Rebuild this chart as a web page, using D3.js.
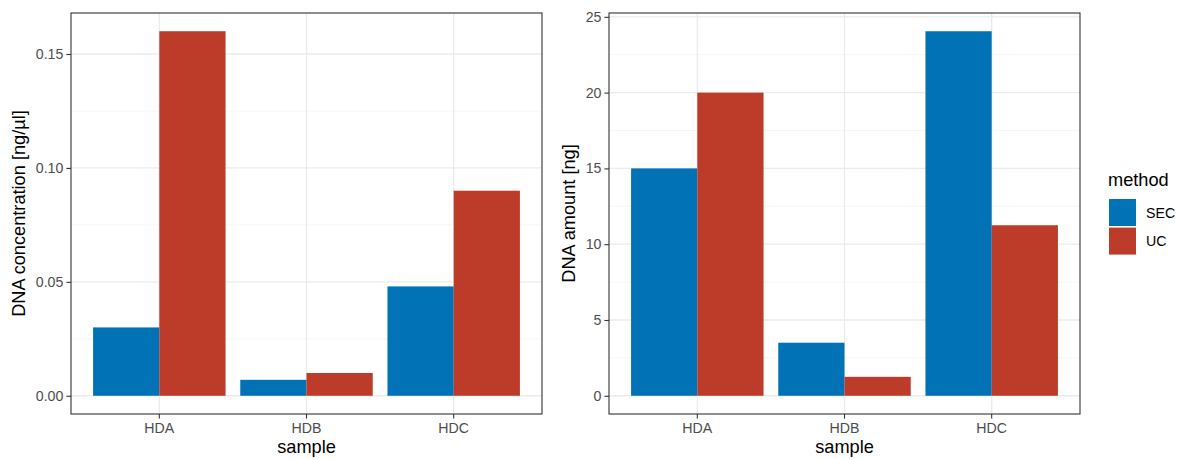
<!DOCTYPE html>
<html lang="en">
<head>
<meta charset="UTF-8">
<title>DNA by sample and method</title>
<style>
  body { margin: 0; background: #fff; }
  svg { font-family: "Liberation Sans", Arial, sans-serif; }
  .tick text { fill: #4d4d4d; font-size: 14.2px; font-family: "Liberation Sans", Arial, sans-serif; }
  .tick line { stroke: #333; stroke-width: 1.1; }
  .axis path { display: none; }
  .title { font-size: 18.2px; fill: #000; }
</style>
</head>
<body>
<script src="https://d3js.org/d3.v7.min.js"></script>
<script>
const samples = ["HDA", "HDB", "HDC"];
const methods = ["SEC", "UC"];
// values per sample, order follows methods
const concentration = [[0.03, 0.16], [0.007, 0.01], [0.048, 0.09]];
const amount = [[15, 20], [3.5, 1.25], [24.05, 11.25]];
const concTicks = [0, 0.05, 0.10, 0.15];
const concMinor = [0.025, 0.075, 0.125];
const amountTicks = [0, 5, 10, 15, 20, 25];
const amountMinor = [2.5, 7.5, 12.5, 17.5, 22.5];

const colors = { SEC: "#0072B5", UC: "#BC3C29" };
const width = 1180, height = 459;

const svg = d3.select("body").append("svg")
  .attr("width", width).attr("height", height);

function panel(opts) {
  const { left, right, top, bottom, values, ticks, minor, fmt, ylab, labX } = opts;
  const g = svg.append("g");

  const x = d3.scaleBand().domain(samples).range([left, right])
    .paddingInner(0.1).paddingOuter(0.15);
  const xs = d3.scaleBand().domain(methods).range([0, x.bandwidth()]);

  const maxV = d3.max(values.flat());
  const ext = maxV * 0.05;
  const y = d3.scaleLinear().domain([-ext, maxV + ext]).range([bottom, top]);

  // grid
  g.selectAll(".minor").data(minor).enter().append("line")
    .attr("x1", left).attr("x2", right)
    .attr("y1", d => y(d)).attr("y2", d => y(d))
    .attr("stroke", "#f2f2f2").attr("stroke-width", 0.7);
  g.selectAll(".major").data(ticks).enter().append("line")
    .attr("x1", left).attr("x2", right)
    .attr("y1", d => y(d)).attr("y2", d => y(d))
    .attr("stroke", "#ebebeb").attr("stroke-width", 1.3);
  g.selectAll(".vmajor").data(samples).enter().append("line")
    .attr("x1", d => x(d) + x.bandwidth() / 2).attr("x2", d => x(d) + x.bandwidth() / 2)
    .attr("y1", top).attr("y2", bottom)
    .attr("stroke", "#ebebeb").attr("stroke-width", 1.3);

  // bars
  const groups = g.selectAll(".grp").data(samples).enter().append("g")
    .attr("transform", d => "translate(" + x(d) + ",0)");
  groups.selectAll("rect")
    .data((d, i) => methods.map((m, j) => ({ m: m, v: values[i][j] })))
    .enter().append("rect")
    .attr("x", d => xs(d.m))
    .attr("width", xs.bandwidth())
    .attr("y", d => y(d.v))
    .attr("height", d => y(0) - y(d.v))
    .attr("fill", d => colors[d.m]);

  // border
  g.append("rect")
    .attr("x", left).attr("y", top)
    .attr("width", right - left).attr("height", bottom - top)
    .attr("fill", "none").attr("stroke", "#333").attr("stroke-width", 1.1);

  // axes
  g.append("g").attr("class", "axis")
    .attr("transform", "translate(" + left + ",0)")
    .call(d3.axisLeft(y).tickValues(ticks).tickFormat(fmt).tickSize(4.6).tickPadding(3));
  g.append("g").attr("class", "axis")
    .attr("transform", "translate(0," + bottom + ")")
    .call(d3.axisBottom(x).tickSize(4.6).tickPadding(4.4));

  g.append("text").attr("class", "title")
    .attr("x", (left + right) / 2).attr("y", 453)
    .attr("text-anchor", "middle").text("sample");
  g.append("text").attr("class", "title")
    .attr("transform", "translate(" + labX + "," + ((top + bottom) / 2) + ") rotate(-90)")
    .attr("text-anchor", "middle").text(ylab);
}

panel({
  left: 71, right: 542, top: 13, bottom: 414,
  values: concentration, ticks: concTicks, minor: concMinor,
  fmt: d3.format(".2f"), ylab: "DNA concentration [ng/µl]", labX: 25
});
panel({
  left: 609, right: 1080, top: 13, bottom: 414,
  values: amount, ticks: amountTicks, minor: amountMinor,
  fmt: d3.format("d"), ylab: "DNA amount [ng]", labX: 575
});

// legend
const lg = svg.append("g").attr("transform", "translate(1109,0)");
lg.append("text").attr("class", "title").attr("x", -1).attr("y", 186).text("method");
lg.selectAll("rect").data(methods).enter().append("rect")
  .attr("x", 0).attr("y", (d, i) => 199 + i * 28.6)
  .attr("width", 27).attr("height", 27)
  .attr("fill", d => colors[d]);
lg.selectAll(".lab").data(methods).enter().append("text")
  .attr("x", 37).attr("y", (d, i) => 217.5 + i * 28.6)
  .attr("font-size", "14.2px").attr("fill", "#000")
  .text(d => d);
</script>
</body>
</html>
